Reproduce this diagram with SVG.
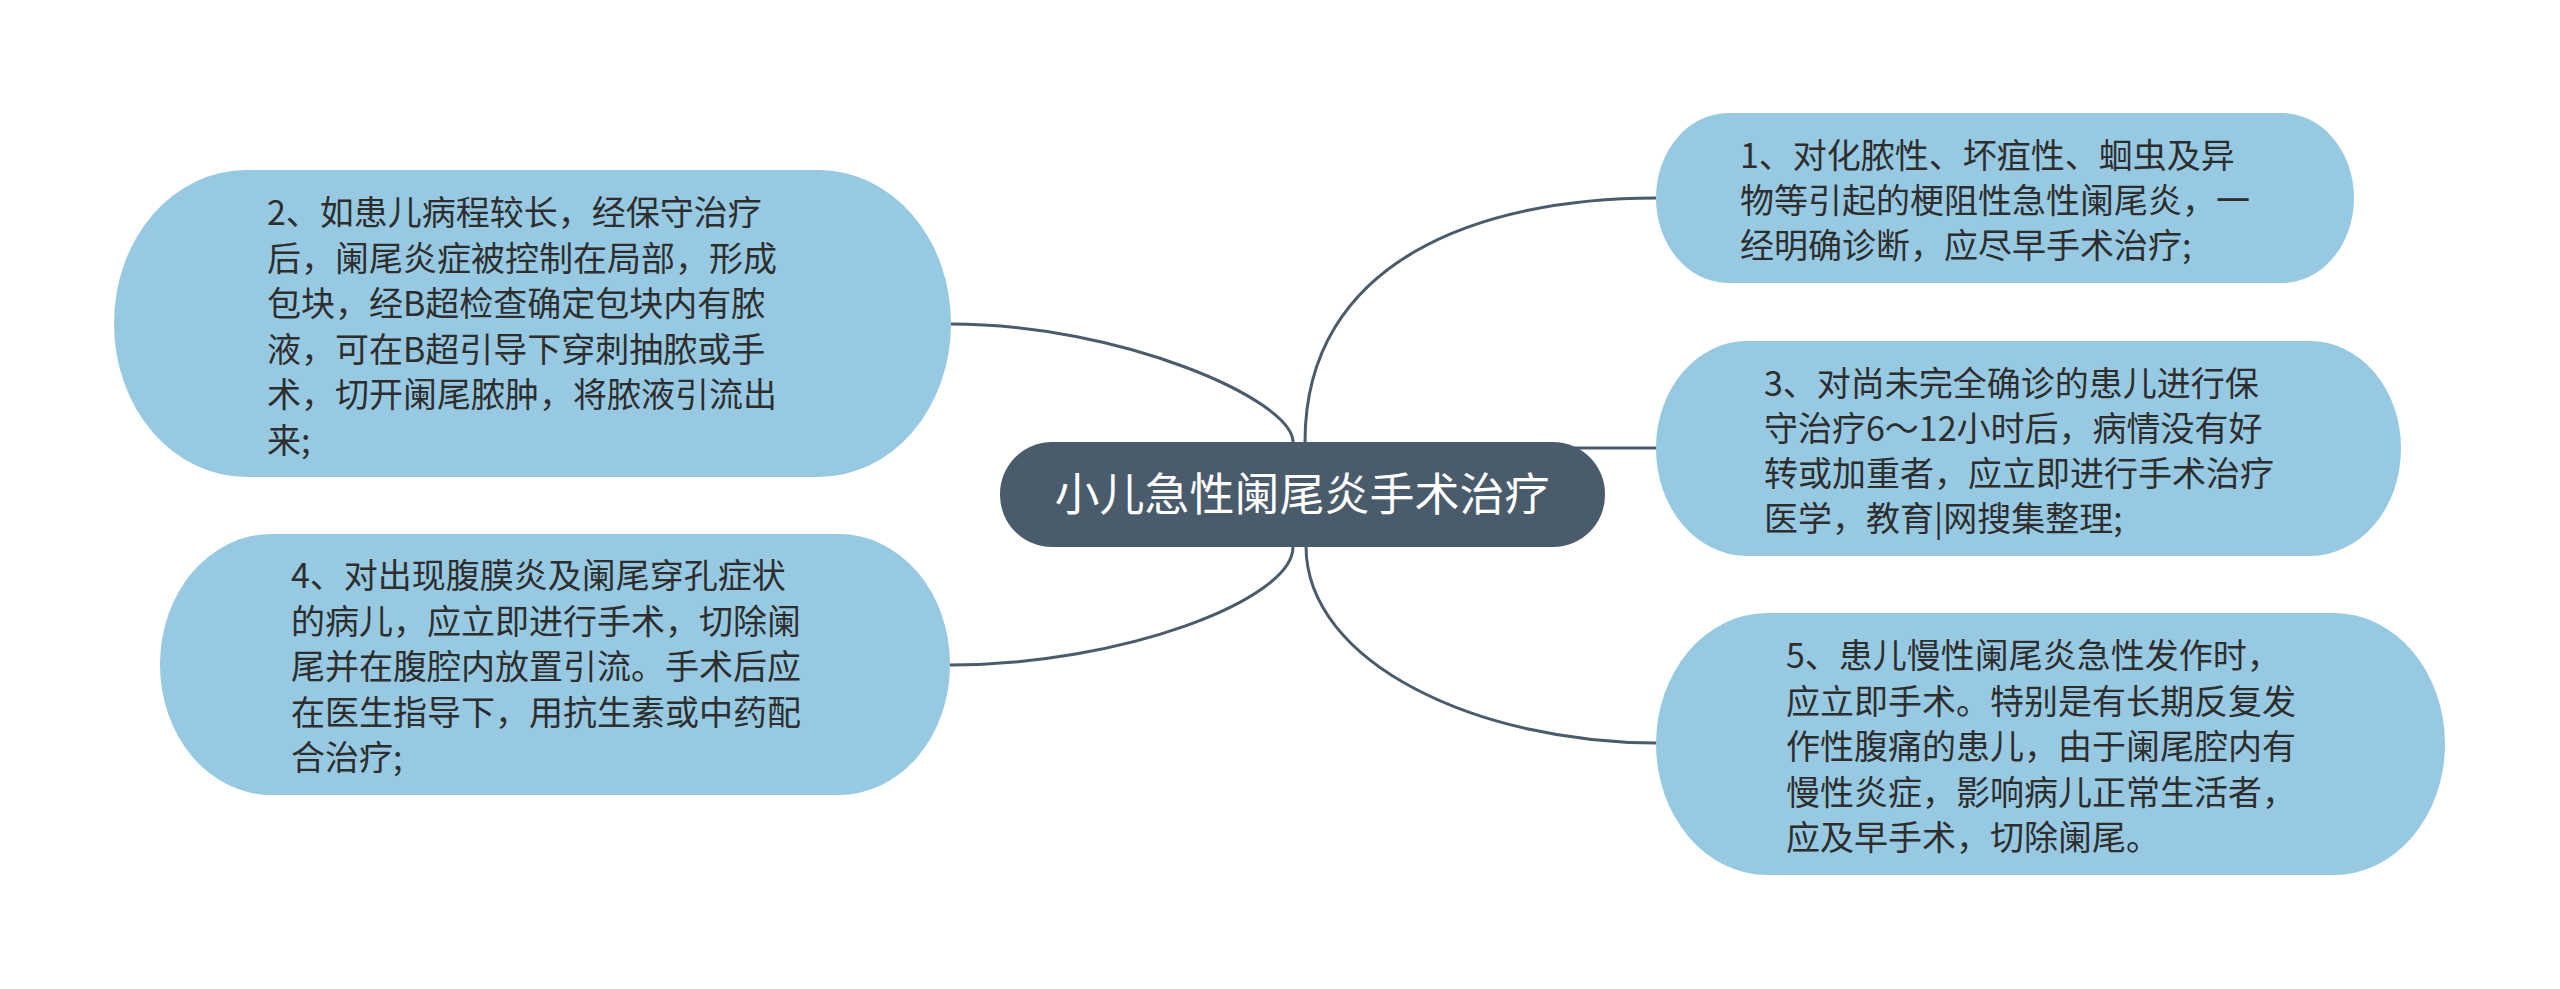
<svg xmlns="http://www.w3.org/2000/svg" width="2560" height="989" viewBox="0 0 2560 989">
<style>
.sub{fill:#97cae2;}
.main{fill:#4a5b6b;}
.conn{fill:none;stroke:#4a5b6b;stroke-width:3;}
.t{font-family:"Noto Sans CJK SC","Liberation Sans",sans-serif;font-size:34px;fill:#2e2e2e;}
.tm{font-family:"Noto Sans CJK SC","Liberation Sans",sans-serif;font-size:45px;fill:#ffffff;text-anchor:middle;}
</style>
<rect width="2560" height="989" fill="#ffffff"/>
<g id="connectors">
<path class="conn" d="M1305,442 C1305,260 1480,198 1656,198"/>
<path class="conn" d="M1560,448 L1656,448"/>
<path class="conn" d="M1306,546 C1306,664 1480,743 1656,743"/>
<path class="conn" d="M1293,442 C1293,400 1121,324 950,324"/>
<path class="conn" d="M1293,547 C1293,600 1121,665 950,665"/>
</g>
<g id="center">
<rect class="main" x="1000" y="442" width="605" height="105" rx="52" ry="52"/>
<text class="tm" x="1302" y="511">小儿急性阑尾炎手术治疗</text>
</g>
<g id="node1">
<rect class="sub" x="1656" y="113" width="698" height="170" rx="72" ry="85"/>
<text class="t" x="1740" y="168">1、对化脓性、坏疽性、蛔虫及异</text>
<text class="t" x="1740" y="213">物等引起的梗阻性急性阑尾炎，一</text>
<text class="t" x="1740" y="258">经明确诊断，应尽早手术治疗;</text>
</g>
<g id="node3">
<rect class="sub" x="1656" y="341" width="745" height="215" rx="91" ry="107"/>
<text class="t" x="1764" y="396">3、对尚未完全确诊的患儿进行保</text>
<text class="t" x="1764" y="441">守治疗6～12小时后，病情没有好</text>
<text class="t" x="1764" y="486">转或加重者，应立即进行手术治疗</text>
<text class="t" x="1764" y="531">医学，教育|网搜集整理;</text>
</g>
<g id="node5">
<rect class="sub" x="1656" y="613" width="789" height="262" rx="111" ry="131"/>
<text class="t" x="1786" y="668">5、患儿慢性阑尾炎急性发作时，</text>
<text class="t" x="1786" y="713.5">应立即手术。特别是有长期反复发</text>
<text class="t" x="1786" y="759">作性腹痛的患儿，由于阑尾腔内有</text>
<text class="t" x="1786" y="804.5">慢性炎症，影响病儿正常生活者，</text>
<text class="t" x="1786" y="850">应及早手术，切除阑尾。</text>
</g>
<g id="node2">
<rect class="sub" x="114" y="170" width="837" height="307" rx="132" ry="153"/>
<text class="t" x="267" y="225">2、如患儿病程较长，经保守治疗</text>
<text class="t" x="267" y="270.5">后，阑尾炎症被控制在局部，形成</text>
<text class="t" x="267" y="316">包块，经B超检查确定包块内有脓</text>
<text class="t" x="267" y="361.5">液，可在B超引导下穿刺抽脓或手</text>
<text class="t" x="267" y="407">术，切开阑尾脓肿，将脓液引流出</text>
<text class="t" x="267" y="452.5">来;</text>
</g>
<g id="node4">
<rect class="sub" x="160" y="534" width="790" height="261" rx="111" ry="130"/>
<text class="t" x="291" y="588">4、对出现腹膜炎及阑尾穿孔症状</text>
<text class="t" x="291" y="633.5">的病儿，应立即进行手术，切除阑</text>
<text class="t" x="291" y="679">尾并在腹腔内放置引流。手术后应</text>
<text class="t" x="291" y="724.5">在医生指导下，用抗生素或中药配</text>
<text class="t" x="291" y="770">合治疗;</text>
</g>
</svg>
